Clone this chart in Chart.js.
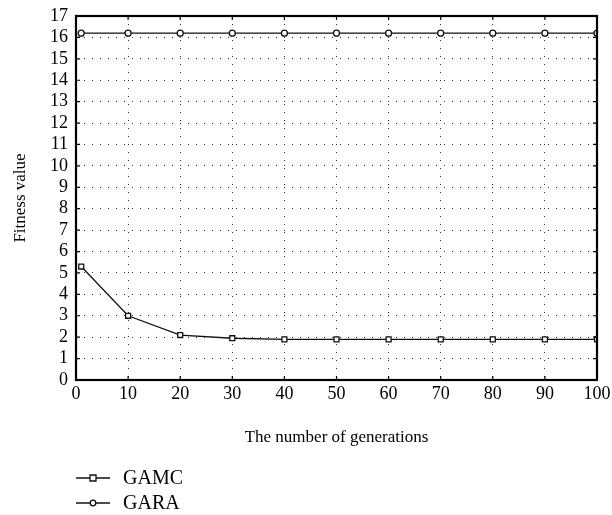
<!DOCTYPE html>
<html>
<head>
<meta charset="utf-8">
<script src="https://cdn.jsdelivr.net/npm/chart.js@4.4.0/dist/chart.umd.min.js"></script>
<style>
  html, body { margin: 0; padding: 0; background: #fff; }
  #wrap { width: 612px; height: 515px; }
</style>
</head>
<body>
<div id="wrap"><canvas id="chart" width="612" height="515"></canvas></div>
<script>
const generations = [1, 10, 20, 30, 40, 50, 60, 70, 80, 90, 100];
const gamc = [5.3, 3.0, 2.1, 1.95, 1.9, 1.9, 1.9, 1.9, 1.9, 1.9, 1.9];
const gara = [16.2, 16.2, 16.2, 16.2, 16.2, 16.2, 16.2, 16.2, 16.2, 16.2, 16.2];
const seriesNames = ["GAMC", "GARA"];

const FONT = "'Liberation Serif', 'DejaVu Serif', serif";

// frame, inner ticks and legend drawn by hand
const framePlugin = {
  id: "frame",
  afterDraw(chart) {
    const ctx = chart.ctx;
    const a = chart.chartArea;
    const xs = chart.scales.x, ys = chart.scales.y;
    ctx.save();
    ctx.strokeStyle = "#000";
    ctx.lineWidth = 1.2;
    ctx.beginPath();
    xs.ticks.forEach(t => {
      const px = xs.getPixelForValue(t.value);
      ctx.moveTo(px, a.bottom); ctx.lineTo(px, a.bottom - 4);
      ctx.moveTo(px, a.top); ctx.lineTo(px, a.top + 4);
    });
    ys.ticks.forEach(t => {
      const py = ys.getPixelForValue(t.value);
      ctx.moveTo(a.left, py); ctx.lineTo(a.left + 4, py);
      ctx.moveTo(a.right, py); ctx.lineTo(a.right - 4, py);
    });
    ctx.stroke();
    ctx.lineWidth = 2.2;
    ctx.strokeRect(a.left, a.top, a.right - a.left, a.bottom - a.top);

    // legend
    ctx.font = "20px " + FONT;
    ctx.textBaseline = "middle";
    ctx.fillStyle = "#000";
    const rows = [478, 503];
    chart.data.datasets.forEach((ds, i) => {
      const y = rows[i];
      ctx.lineWidth = 1.3;
      ctx.strokeStyle = "#111";
      ctx.beginPath();
      ctx.moveTo(76, y); ctx.lineTo(110, y);
      ctx.stroke();
      ctx.fillStyle = "#fff";
      ctx.beginPath();
      if (ds.pointStyle === "rect") {
        ctx.rect(90, y - 3, 6, 6);
      } else {
        ctx.arc(93, y, 2.8, 0, Math.PI * 2);
      }
      ctx.fill(); ctx.stroke();
      ctx.fillStyle = "#000";
      ctx.fillText(ds.label, 123, y + 1);
    });
    ctx.restore();
  }
};

new Chart(document.getElementById("chart"), {
  type: "line",
  data: {
    datasets: [
      {
        label: seriesNames[0],
        data: generations.map((g, i) => ({ x: g, y: gamc[i] })),
        borderColor: "#111",
        borderWidth: 1.3,
        pointStyle: "rect",
        pointRadius: 3.5,
        pointBackgroundColor: "#fff",
        pointBorderColor: "#111",
        pointBorderWidth: 1.3,
        tension: 0
      },
      {
        label: seriesNames[1],
        data: generations.map((g, i) => ({ x: g, y: gara[i] })),
        borderColor: "#111",
        borderWidth: 1.3,
        pointStyle: "circle",
        pointRadius: 3,
        pointBackgroundColor: "#fff",
        pointBorderColor: "#111",
        pointBorderWidth: 1.3,
        tension: 0
      }
    ]
  },
  options: {
    responsive: false,
    animation: false,
    layout: { padding: { left: 6, right: 15, top: 16, bottom: 63 } },
    plugins: { legend: { display: false }, tooltip: { enabled: false } },
    scales: {
      x: {
        type: "linear",
        min: 0, max: 100,
        afterFit(scale) { scale.height = 72; scale.paddingLeft = 0; scale.paddingRight = 0; },
        ticks: { stepSize: 10, autoSkip: false, color: "#000", font: { family: FONT, size: 18 }, padding: 3, maxRotation: 0 },
        grid: { color: "#333", lineWidth: 1, drawTicks: false },
        border: { display: false, dash: [1, 7] },
        title: { display: true, text: "The number of generations", color: "#000", font: { family: FONT, size: 17 }, padding: { top: 4, bottom: 4 } }
      },
      y: {
        min: 0, max: 17,
        afterFit(scale) { scale.width = 70; scale.paddingTop = 0; scale.paddingBottom = 0; },
        ticks: { stepSize: 1, autoSkip: false, color: "#000", font: { family: FONT, size: 18 }, padding: 8 },
        grid: { color: "#333", lineWidth: 1, drawTicks: false },
        border: { display: false, dash: [1, 7] },
        title: { display: true, text: "Fitness value", color: "#000", font: { family: FONT, size: 17 }, padding: { bottom: 4 } }
      }
    }
  },
  plugins: [framePlugin]
});
</script>
</body>
</html>
